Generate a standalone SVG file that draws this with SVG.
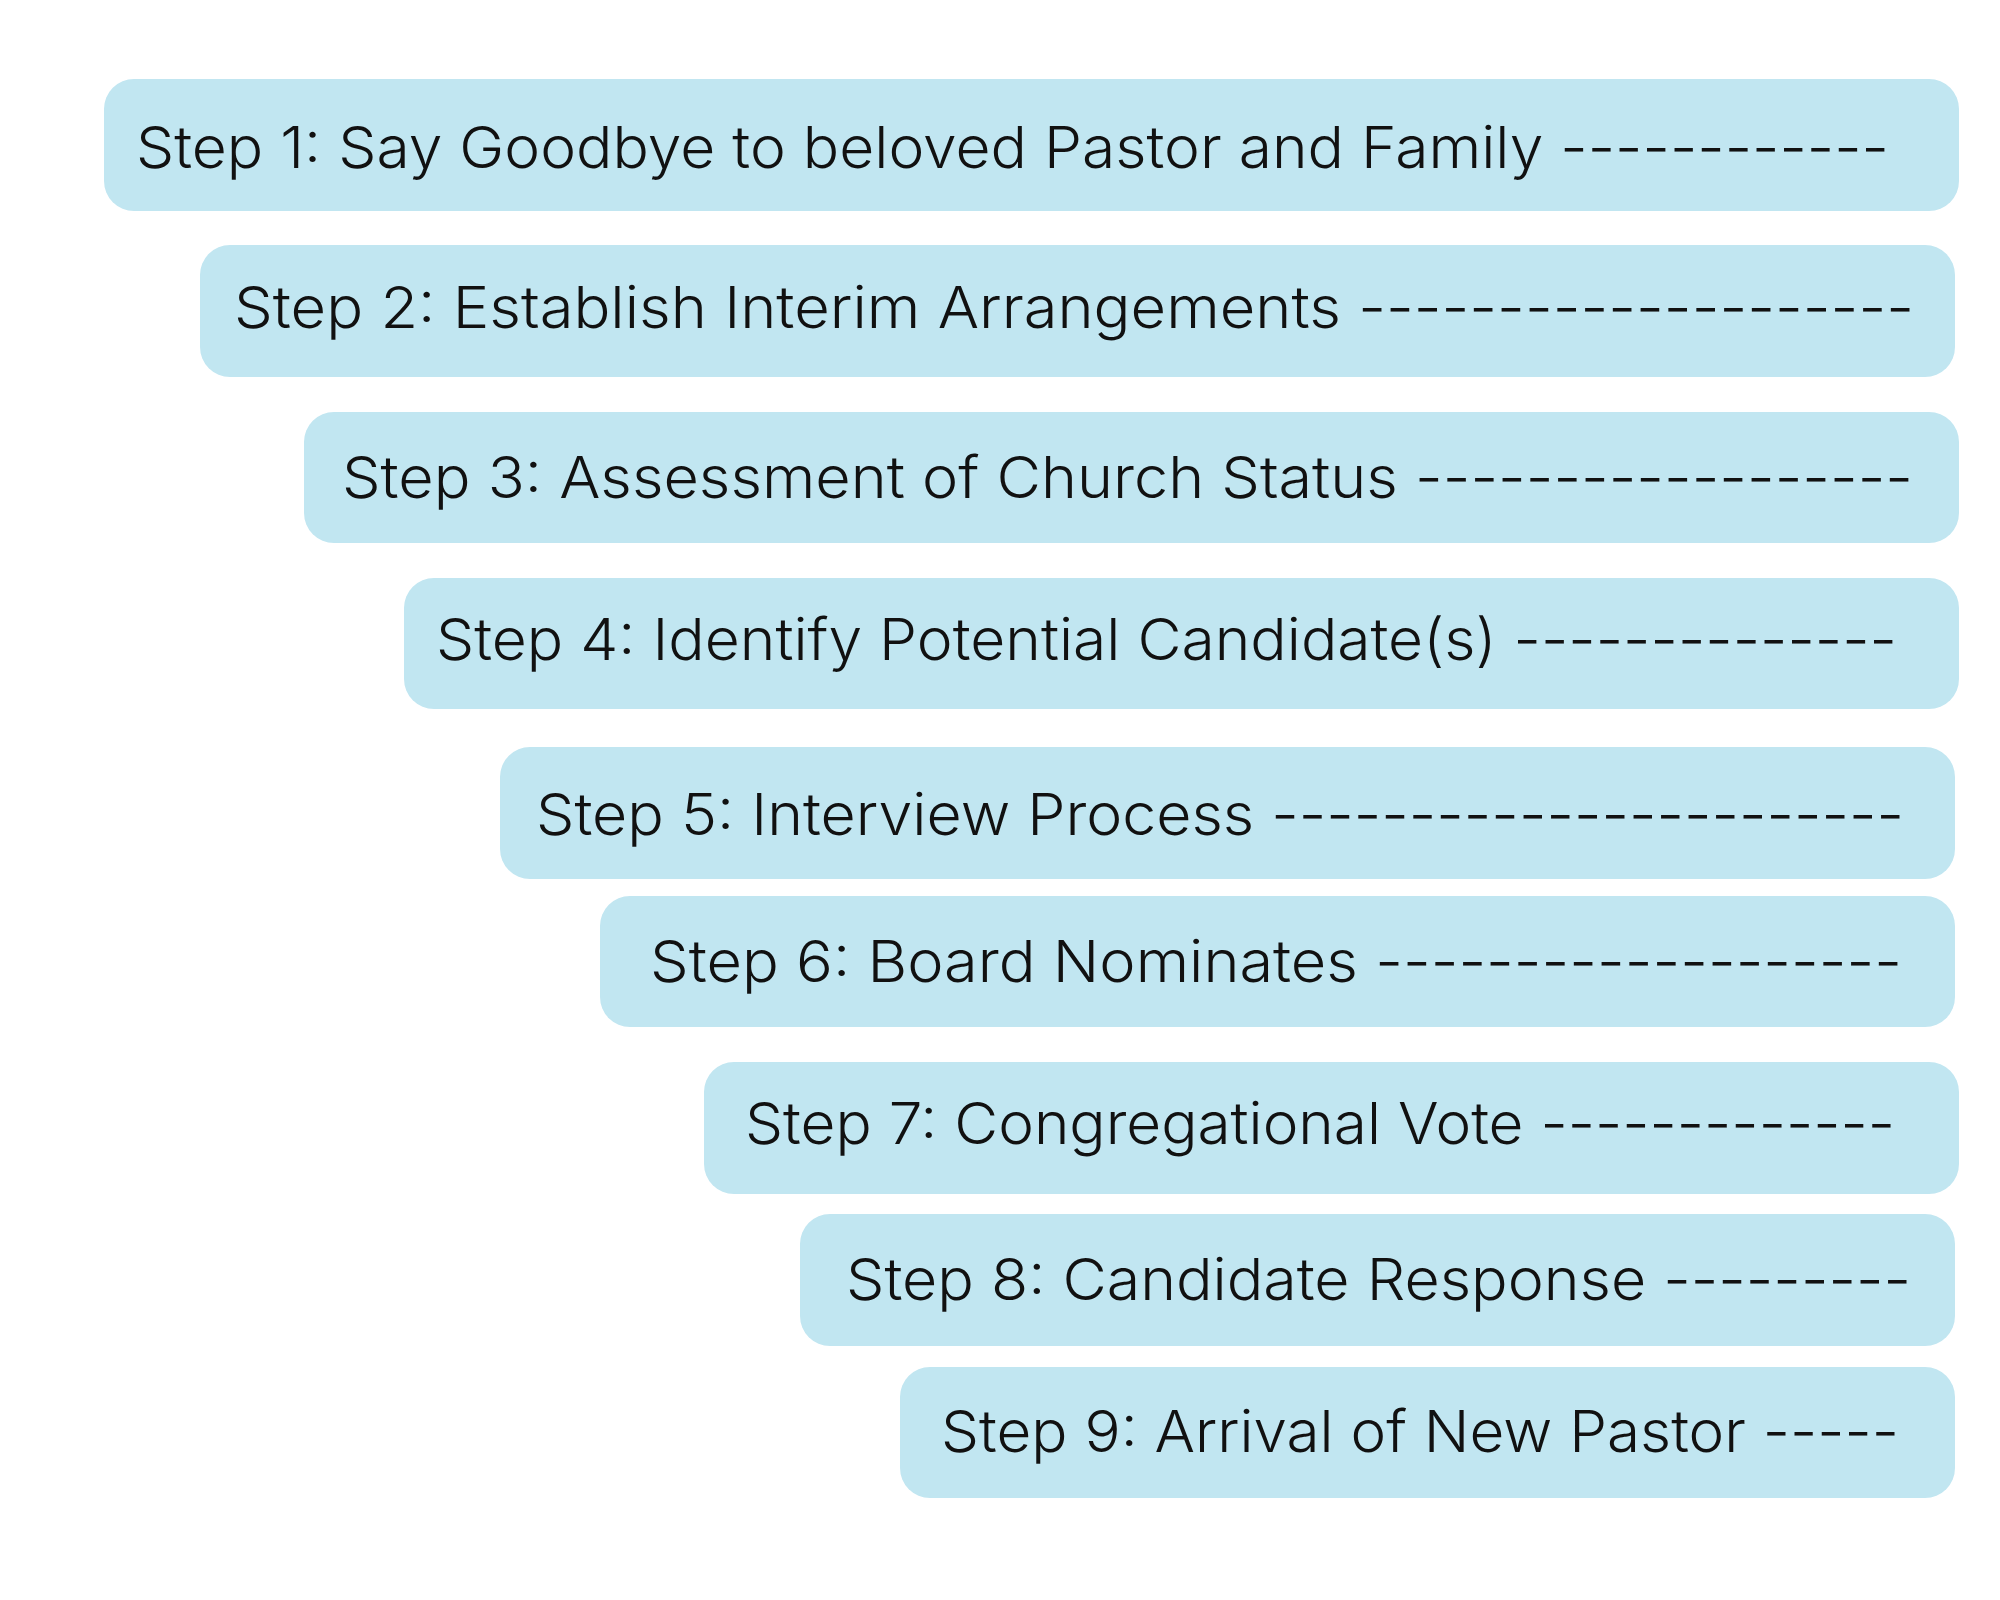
<svg xmlns="http://www.w3.org/2000/svg" width="2000" height="1600" viewBox="0 0 2000 1600">
<style>
.box{fill:#C1E6F1;}
.lbl{font-family:Inter,"Open Sans","Liberation Sans",sans-serif;font-weight:300;font-size:58px;fill:#111;}
</style>
<rect width="2000" height="1600" fill="#FFFFFF"/>
<g id="step1"><rect class="box" x="104" y="79" width="1855" height="132" rx="30"/><text class="lbl" x="136" y="168" textLength="1753" lengthAdjust="spacingAndGlyphs">Step 1: Say Goodbye to beloved Pastor and Family ------------</text></g>
<g id="step2"><rect class="box" x="200" y="245" width="1755" height="132" rx="30"/><text class="lbl" x="234" y="328" textLength="1680" lengthAdjust="spacingAndGlyphs">Step 2: Establish Interim Arrangements --------------------</text></g>
<g id="step3"><rect class="box" x="304" y="412" width="1655" height="131" rx="30"/><text class="lbl" x="342" y="498" textLength="1571" lengthAdjust="spacingAndGlyphs">Step 3: Assessment of Church Status ------------------</text></g>
<g id="step4"><rect class="box" x="404" y="578" width="1555" height="131" rx="30"/><text class="lbl" x="436" y="660" textLength="1461" lengthAdjust="spacingAndGlyphs">Step 4: Identify Potential Candidate(s) --------------</text></g>
<g id="step5"><rect class="box" x="500" y="747" width="1455" height="132" rx="30"/><text class="lbl" x="536" y="835" textLength="1368" lengthAdjust="spacingAndGlyphs">Step 5: Interview Process -----------------------</text></g>
<g id="step6"><rect class="box" x="600" y="896" width="1355" height="131" rx="30"/><text class="lbl" x="650" y="982" textLength="1252" lengthAdjust="spacingAndGlyphs">Step 6: Board Nominates -------------------</text></g>
<g id="step7"><rect class="box" x="704" y="1062" width="1255" height="132" rx="30"/><text class="lbl" x="745" y="1144" textLength="1150" lengthAdjust="spacingAndGlyphs">Step 7: Congregational Vote -------------</text></g>
<g id="step8"><rect class="box" x="800" y="1214" width="1155" height="132" rx="30"/><text class="lbl" x="846" y="1300" textLength="1065" lengthAdjust="spacingAndGlyphs">Step 8: Candidate Response ---------</text></g>
<g id="step9"><rect class="box" x="900" y="1367" width="1055" height="131" rx="30"/><text class="lbl" x="941" y="1452" textLength="958" lengthAdjust="spacingAndGlyphs">Step 9: Arrival of New Pastor -----</text></g>
<g id="connectors"></g>
</svg>
